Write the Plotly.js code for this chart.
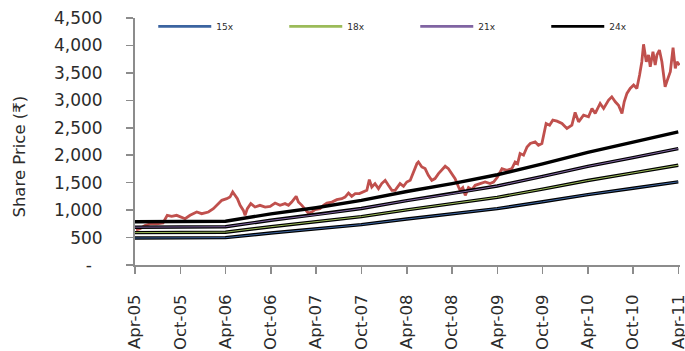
<!DOCTYPE html>
<html>
<head>
<meta charset="utf-8">
<script src="https://cdn.plot.ly/plotly-3.0.1.min.js"></script>
<style>
  html, body { margin: 0; padding: 0; background: #ffffff; }
  #chart { width: 685px; height: 351px; }
</style>
</head>
<body>
<div id="chart"></div>
<script>
// Share price history (₹)
const priceDates = [
  '2005-04-05','2005-04-21','2005-05-11','2005-06-01','2005-06-28','2005-07-23','2005-08-09','2005-08-27',
  '2005-09-16','2005-10-06','2005-10-20','2005-11-09','2005-12-06','2005-12-26','2006-01-22','2006-02-11',
  '2006-03-03','2006-03-17','2006-04-06','2006-04-19','2006-04-30','2006-05-10','2006-05-19','2006-05-30',
  '2006-06-12','2006-06-19','2006-06-28','2006-07-12','2006-07-29','2006-08-18','2006-09-08','2006-09-28',
  '2006-10-18','2006-11-07','2006-11-27','2006-12-11','2006-12-24','2007-01-11','2007-01-20','2007-02-03',
  '2007-02-16','2007-03-01','2007-03-15','2007-03-28','2007-04-17','2007-05-01','2007-05-15','2007-06-04',
  '2007-06-24','2007-07-14','2007-07-27','2007-08-10','2007-08-23','2007-09-06','2007-09-23','2007-10-09',
  '2007-10-23','2007-11-02','2007-11-12','2007-11-25','2007-12-09','2007-12-22','2008-01-05','2008-01-18',
  '2008-02-01','2008-02-14','2008-03-05','2008-03-19','2008-04-01','2008-04-15',
  '2008-04-28','2008-05-12','2008-05-18','2008-06-01','2008-06-14','2008-06-27','2008-07-11','2008-07-24',
  '2008-08-07','2008-08-21','2008-09-03','2008-09-16','2008-09-30','2008-10-13','2008-10-27','2008-11-02',
  '2008-11-13','2008-11-23','2008-12-06','2008-12-20','2009-01-02','2009-01-22','2009-02-11','2009-03-03',
  '2009-03-17','2009-04-02','2009-04-20','2009-05-10','2009-05-30','2009-06-12','2009-06-22','2009-07-02',
  '2009-07-16','2009-07-30','2009-08-12','2009-09-01','2009-09-14','2009-09-28','2009-10-04','2009-10-15',
  '2009-10-29','2009-11-11',
  '2009-11-28','2009-12-18','2010-01-07','2010-01-27','2010-02-09','2010-02-23','2010-03-15','2010-04-04',
  '2010-04-18','2010-05-01','2010-05-21','2010-06-04','2010-06-24','2010-07-07','2010-07-21','2010-08-03',
  '2010-08-17','2010-08-26','2010-09-06','2010-09-19','2010-10-03','2010-10-16','2010-10-27','2010-11-05',
  '2010-11-12','2010-11-23','2010-12-02','2010-12-09','2010-12-20','2010-12-29','2011-01-05','2011-01-15',
  '2011-01-25','2011-02-01','2011-02-07','2011-02-16','2011-02-28','2011-03-11','2011-03-20','2011-03-27',
  '2011-04-06'
];
const priceValues = [
  640, 660, 720, 750, 750, 765, 905, 885,
  905, 873, 843, 905, 965, 935, 965, 1025,
  1118, 1178, 1209, 1238, 1330, 1270, 1209, 1087,
  995, 904, 1026, 1118, 1056, 1087, 1056, 1068,
  1128, 1087, 1118, 1087, 1147, 1251, 1147, 1087,
  1026, 946, 965, 1008, 1026, 1087, 1128, 1147,
  1190, 1209, 1238, 1311, 1251, 1300, 1300, 1330,
  1360, 1556, 1421, 1483, 1391, 1483, 1543, 1452,
  1360, 1360, 1483, 1433, 1512, 1543,
  1694, 1847, 1877, 1786, 1756, 1634, 1543, 1574,
  1665, 1726, 1799, 1756, 1665, 1574, 1421, 1360,
  1410, 1269, 1410, 1373, 1452, 1483, 1512, 1483,
  1512, 1603, 1756, 1726, 1756, 1877, 1847, 2030,
  2000, 2151, 2213, 2242, 2182, 2213, 2365, 2578,
  2547, 2639,
  2620, 2578, 2487, 2547, 2779, 2608, 2730, 2699,
  2852, 2761, 2944, 2852, 3004, 3064, 2973, 2912,
  2761, 2973, 3126, 3217, 3278, 3217, 3460, 3703,
  4021, 3703, 3826, 3612, 3886, 3643, 3826, 3917,
  3703, 3460, 3247, 3369, 3521, 3960, 3582, 3703,
  3643
];

// P/E band lines (price implied at each multiple)
const bandDates = [
  '2005-04-01','2005-10-01','2006-04-01','2006-10-01','2007-04-01','2007-10-01','2008-04-01',
  '2008-10-01','2009-04-01','2009-10-01','2010-04-01','2010-10-01','2011-04-01'
];
const band15x = [492, 494, 498, 582, 653, 735, 837, 927, 1028, 1152, 1283, 1398, 1515];
const band18x = [590, 592, 598, 698, 783, 882, 1004, 1112, 1233, 1382, 1539, 1678, 1818];
const band21x = [689, 691, 697, 815, 914, 1029, 1172, 1298, 1439, 1613, 1796, 1957, 2121];
const band24x = [787, 790, 797, 931, 1044, 1176, 1339, 1483, 1644, 1843, 2052, 2237, 2424];

const bandNames = ['15x', '18x', '21x', '24x'];
const bandColors = ['#3b64a0', '#9bbb59', '#8064a2', '#000000'];

// Axis ticks
const xTickVals = [
  '2005-04-01','2005-10-01','2006-04-01','2006-10-01','2007-04-01','2007-10-01','2008-04-01',
  '2008-10-01','2009-04-01','2009-10-01','2010-04-01','2010-10-01','2011-04-01'
];
const xTickText = ['Apr-05','Oct-05','Apr-06','Oct-06','Apr-07','Oct-07','Apr-08',
                   'Oct-08','Apr-09','Oct-09','Apr-10','Oct-10','Apr-11'];
const yTickVals = [0, 500, 1000, 1500, 2000, 2500, 3000, 3500, 4000, 4500];
const yTickText = ['-\u00a0\u00a0', '500', '1,000', '1,500', '2,000', '2,500', '3,000', '3,500', '4,000', '4,500'];

const bandValues = [band15x, band18x, band21x, band24x];
const traces = [];

// price line
traces.push({
  x: priceDates, y: priceValues, type: 'scatter', mode: 'lines',
  line: { color: '#c0504d', width: 2.8 }, showlegend: false, hoverinfo: 'x+y'
});

// each band: dark outline with a thin coloured core
bandValues.forEach((vals, i) => {
  traces.push({
    x: bandDates, y: vals, type: 'scatter', mode: 'lines',
    line: { color: '#000000', width: 3.4 }, showlegend: false, hoverinfo: 'skip'
  });
  if (i < 3) {
    traces.push({
      x: bandDates, y: vals, type: 'scatter', mode: 'lines',
      line: { color: bandColors[i], width: 1 }, showlegend: false, hoverinfo: 'skip'
    });
  }
});

// legend entries
bandNames.forEach((name, i) => {
  traces.push({
    x: [null], y: [null], type: 'scatter', mode: 'lines', name: name,
    line: { color: bandColors[i], width: 2.6 }, showlegend: true
  });
});

const axisGrey = '#8c8c8c';
const layout = {
  width: 685, height: 351,
  margin: { l: 135, r: 5, t: 18, b: 86 },
  paper_bgcolor: '#ffffff', plot_bgcolor: '#ffffff',
  font: { family: 'DejaVu Sans, sans-serif', color: '#2b2b2b' },
  showlegend: true,
  legend: {
    orientation: 'h', x: 0.0335, y: 0.966, xanchor: 'left', yanchor: 'middle',
    font: { size: 9, color: '#2b2b2b' }, bgcolor: 'rgba(0,0,0,0)',
    entrywidth: 63, entrywidthmode: 'pixels', itemwidth: 53, traceorder: 'normal'
  },
  xaxis: {
    type: 'date', range: ['2005-04-01', '2011-04-08'],
    tickmode: 'array', tickvals: xTickVals, ticktext: xTickText, tickangle: -90,
    ticks: 'outside', ticklen: 7, tickwidth: 1.5, tickcolor: axisGrey,
    showline: true, linecolor: axisGrey, linewidth: 2,
    showgrid: false, zeroline: false, ticklabeloverflow: 'allow',
    tickfont: { size: 16.5, color: '#2b2b2b' }, ticklabelstandoff: 14
  },
  yaxis: {
    range: [0, 4500], tickmode: 'array', tickvals: yTickVals, ticktext: yTickText,
    ticks: 'outside', ticklen: 7, tickwidth: 1.5, tickcolor: axisGrey,
    showline: true, linecolor: axisGrey, linewidth: 2,
    showgrid: false, zeroline: false,
    tickfont: { size: 17, color: '#2b2b2b' }, ticklabelstandoff: 20
  },
  annotations: [{
    text: 'Share Price (₹)', textangle: -90, showarrow: false,
    xref: 'paper', yref: 'paper', x: -0.211, y: 0.439, xanchor: 'center', yanchor: 'middle',
    font: { size: 16.5, color: '#2b2b2b' }
  }]
};

Plotly.newPlot('chart', traces, layout, { displayModeBar: false, staticPlot: true });
</script>
</body>
</html>
